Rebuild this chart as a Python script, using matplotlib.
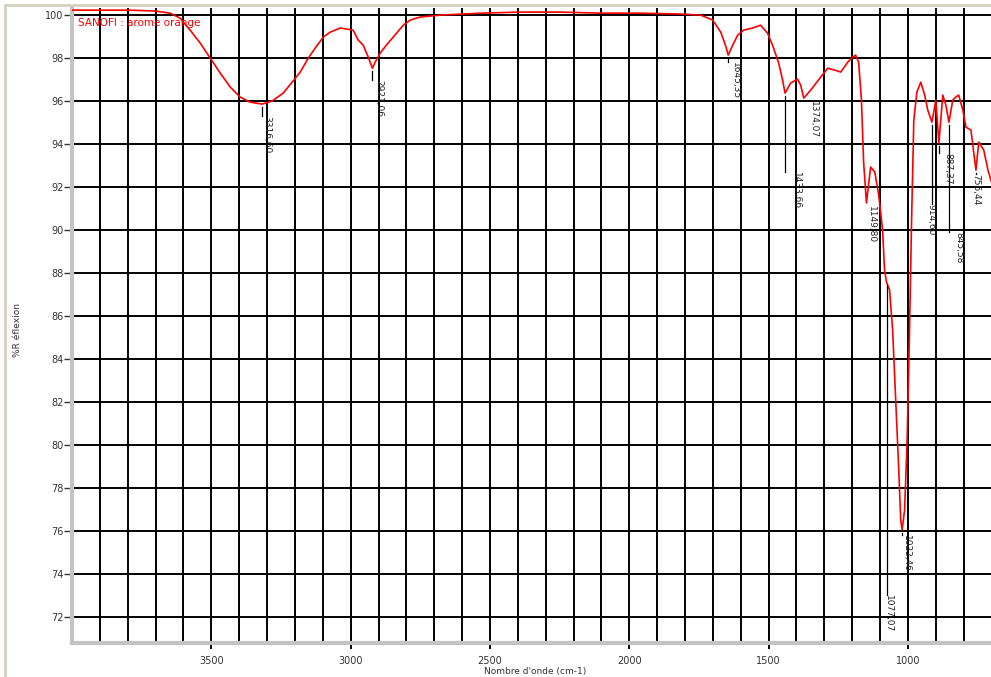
import matplotlib
matplotlib.use("Agg")
import matplotlib.pyplot as plt
from matplotlib.lines import Line2D
from matplotlib.ticker import MultipleLocator

# spectrum (wavenumber cm-1, %R)
wavenumber = [4000, 3899, 3792, 3702, 3648, 3612, 3576, 3540, 3504, 3468,
              3432, 3397, 3361, 3318, 3282, 3242, 3210, 3181, 3152, 3127,
              3098, 3073, 3037, 2991, 2973, 2955, 2937, 2922, 2912, 2894,
              2872, 2847, 2811, 2786, 2750, 2678, 2534, 2391, 2247, 2103,
              1960, 1816, 1744, 1701, 1672, 1655, 1645, 1629, 1611, 1590,
              1557, 1529, 1504, 1486, 1464, 1450, 1441, 1421, 1396, 1385,
              1374, 1349, 1313, 1288, 1263, 1241, 1216, 1198, 1188, 1177,
              1167, 1159, 1149, 1134, 1119, 1105, 1091, 1084, 1077, 1066,
              1055, 1044, 1033, 1026, 1021, 1012, 1003, 995, 987, 979,
              968, 954, 940, 929, 914, 900, 889, 875, 864, 853,
              839, 828, 818, 803, 792, 774, 756, 746, 728, 713, 699]
reflexion = [100.23, 100.23, 100.23, 100.19, 100.09, 99.86, 99.30, 98.70, 98.00, 97.30,
             96.65, 96.19, 95.95, 95.86, 96.00, 96.37, 96.88, 97.35, 98.00, 98.47,
             98.98, 99.21, 99.40, 99.30, 98.84, 98.60, 98.05, 97.53, 97.81, 98.23,
             98.60, 98.98, 99.53, 99.77, 99.91, 100.00, 100.09, 100.14, 100.14, 100.09,
             100.09, 100.05, 100.00, 99.77, 99.21, 98.60, 98.14, 98.60, 99.07, 99.30,
             99.40, 99.53, 99.16, 98.60, 97.77, 96.98, 96.37, 96.84, 97.02, 96.74,
             96.14, 96.51, 97.12, 97.53, 97.44, 97.35, 97.81, 98.05, 98.14, 97.81,
             96.05, 93.12, 91.26, 92.93, 92.70, 91.63, 90.00, 88.14, 87.58, 87.21,
             85.35, 82.09, 78.84, 76.51, 76.05, 76.98, 80.23, 84.88, 90.47, 95.12,
             96.42, 96.88, 96.28, 95.58, 95.02, 96.05, 94.05, 96.28, 95.81, 95.02,
             96.05, 96.19, 96.28, 95.58, 94.79, 94.65, 92.79, 94.09, 93.72, 92.79, 92.19]

x_ticks = [3500, 3000, 2500, 2000, 1500, 1000]

# peak labels: position, text, %R of the peak, %R where the label starts
peak_wn = [3318, 2922, 1645, 1441, 1374, 1149, 1077, 1021, 914, 889, 853, 756]
peak_text = ["3316,60", "2921,06", "1645,35", "1433,66", "1374,07", "1149,80",
             "1077,07", "1022,46", "914,60", "887,37", "845,58", "756,44"]
peak_r = [95.86, 97.53, 98.14, 96.37, 96.14, 91.26, 87.58, 76.05, 95.02, 94.05, 95.02, 92.79]
label_r = [95.3, 97.0, 97.8, 92.7, 96.0, 91.1, 73.0, 75.8, 91.2, 93.6, 89.9, 92.6]
label_wn = [3300, 2900, 1620, 1400, 1340, 1130, 1071, 1005, 918, 858, 818, 756]

fig = plt.figure(figsize=(9.91, 6.77), dpi=100)
ax = fig.add_axes([72 / 991, 34 / 677, 919 / 991, 635 / 677])

ax.plot(wavenumber, reflexion, color="#ff0000", lw=1.2, zorder=3)

ax.set_xlim(4000, 702)
ax.set_ylim(70.79, 100.33)

ax.set_xticks(x_ticks)
ax.xaxis.set_minor_locator(MultipleLocator(100))
ax.yaxis.set_major_locator(MultipleLocator(2))
ax.yaxis.set_minor_locator(MultipleLocator(0.4))

ax.grid(which="both", axis="x", color="black", lw=1.4)
ax.grid(which="major", axis="y", color="black", lw=1.4)
ax.set_axisbelow(True)

for s in ["top", "right"]:
    ax.spines[s].set_visible(False)
for s in ["left", "bottom"]:
    ax.spines[s].set_color("#c4c4c4")
    ax.spines[s].set_linewidth(3)

ax.tick_params(axis="y", which="major", length=6, width=1, color="#333333",
               labelsize=7, labelcolor="#333333", pad=0)
ax.tick_params(axis="y", which="minor", length=3, width=1.6, color="black", direction="inout")
ax.tick_params(axis="x", which="major", length=4, width=1.4, color="black",
               labelsize=7, labelcolor="#333333", pad=5)
ax.tick_params(axis="x", which="minor", length=0)

# peak annotations
for wn, txt, pr, lr, lw_ in zip(peak_wn, peak_text, peak_r, label_r, label_wn):
    ax.plot([wn, wn], [pr - 0.15, lr], color="black", lw=0.9, zorder=4)
    ax.text(lw_, lr, txt, rotation=270, ha="center", va="top", fontsize=6.5,
            color="#222222", zorder=5)

ax.text(3980, 99.65, "SANOFI : arome orange", color="#ff0000", fontsize=7.5,
        va="center", ha="left", zorder=6)

fig.text(18 / 991, 1 - 330 / 677, "%R éflexion", rotation=90, fontsize=6.5,
         color="#333333", ha="center", va="center")
fig.text(535 / 991, 1 / 677, "Nombre d'onde (cm-1)", fontsize=6.5,
         color="#333333", ha="center", va="bottom")

# window frame
fig.add_artist(Line2D([5 / 991, 5 / 991], [0, 1 - 5 / 677], color="#d6d0bf", lw=2))
fig.add_artist(Line2D([5 / 991, 1], [1 - 5 / 677, 1 - 5 / 677], color="#d6d0bf", lw=2))

fig.savefig("out.png", dpi=100)
